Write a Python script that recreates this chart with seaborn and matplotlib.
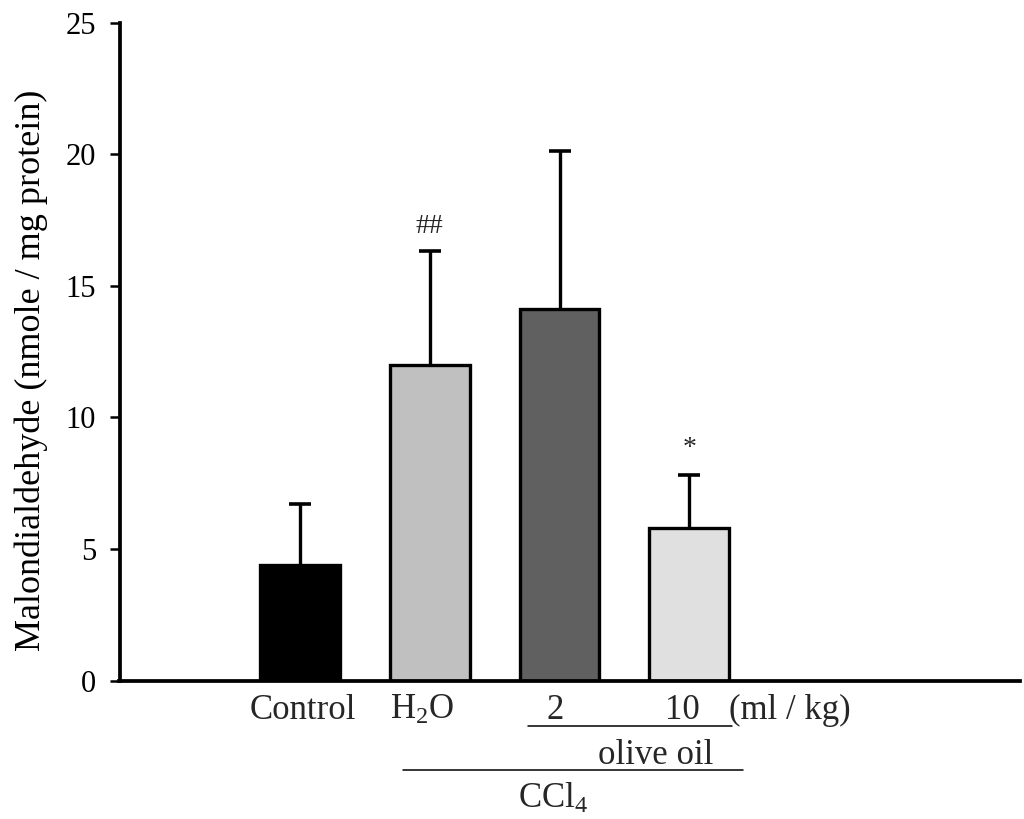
import numpy as np
import pandas as pd
import matplotlib
matplotlib.use("Agg")
import matplotlib.pyplot as plt
import seaborn as sns

# ---- data ----
groups = ["Control", "H2O", "2", "10"]
mda_mean = [4.4, 12.0, 14.1, 5.8]
mda_err_top = [6.7, 16.3, 20.1, 7.8]
bar_colors = ["#000000", "#c0c0c0", "#606060", "#e0e0e0"]
tick_texts = ["Control", r"H$_\mathrm{2}$O", "2", "10"]
tick_offsets = [0.02, -0.06, -0.03, -0.055]
signif_marks = ["", "##", "", "*"]
y_ticks = [0, 5, 10, 15, 20, 25]

sns.set_theme(style="white")
plt.rcParams["font.family"] = ["Liberation Serif", "DejaVu Serif"]
plt.rcParams["mathtext.fontset"] = "custom"
plt.rcParams["mathtext.rm"] = "Liberation Serif"
plt.rcParams["mathtext.it"] = "Liberation Serif:italic"
plt.rcParams["mathtext.bf"] = "Liberation Serif:bold"

df = pd.DataFrame({"group": groups, "mda": mda_mean})

fig = plt.figure(figsize=(10.24, 8.19), dpi=100)
ax = fig.add_axes([119.5 / 1024, 1 - 680.5 / 819, (1020 - 119.5) / 1024, 658 / 819])

sns.barplot(data=df, x="group", y="mda", hue="group", palette=bar_colors,
            order=groups, hue_order=groups, width=0.615, edgecolor="black",
            linewidth=2.4, legend=False, ax=ax, zorder=2)

xpos = np.arange(len(groups))
means = np.array(mda_mean)
upper = np.array(mda_err_top) - means
eb = ax.errorbar(xpos, means, yerr=[np.zeros_like(upper), upper], fmt="none",
                 ecolor="black", elinewidth=2.4, capsize=7.9, capthick=2.6, zorder=1)
eb[1][0].set_visible(False)

# significance marks
for i, m in enumerate(signif_marks):
    if not m:
        continue
    if m == "*":
        ax.text(xpos[i], mda_err_top[i] + 0.75, m, ha="center", va="baseline", fontsize=20)
    else:
        ax.text(xpos[i], mda_err_top[i] + 0.95, m, ha="center", va="center", fontsize=20)

ax.set_xlim(-1.392, 5.55)
ax.set_ylim(0, 25)
ax.set_yticks(y_ticks)
ax.set_yticklabels([str(t) for t in y_ticks])
ax.tick_params(axis="y", which="major", direction="out", length=7, width=1.8,
               pad=10, labelsize=22, left=True, colors="black")
ax.set_xticks([])
ax.set_xlabel("")
ax.set_ylabel("Malondialdehyde (nmole / mg protein)", fontsize=26, color="black")
ax.yaxis.label.set_va("center")
ax.yaxis.set_label_coords(-0.0985, 0.472)

for side in ["top", "right"]:
    ax.spines[side].set_visible(False)
for side in ["left", "bottom"]:
    ax.spines[side].set_linewidth(2.7)
    ax.spines[side].set_color("black")

trans = ax.get_xaxis_transform()
label_fs = 25
for i, (t, off) in enumerate(zip(tick_texts, tick_offsets)):
    ax.text(xpos[i] + off, -0.0585, t, transform=trans, ha="center", va="baseline",
            fontsize=label_fs, clip_on=False)
ax.text(3.778, -0.0585, "(ml / kg)", transform=trans, ha="center", va="baseline",
        fontsize=label_fs, clip_on=False)
ax.plot([1.758, 3.331], [-0.0685, -0.0685], transform=trans, color="black",
        lw=1.1, clip_on=False)
ax.text(2.745, -0.127, "olive oil", transform=trans, ha="center", va="baseline",
        fontsize=label_fs, clip_on=False)
ax.plot([0.794, 3.416], [-0.136, -0.136], transform=trans, color="black",
        lw=1.1, clip_on=False)
ax.text(1.951, -0.194, r"CCl$_\mathrm{4}$", transform=trans, ha="center", va="baseline",
        fontsize=label_fs, clip_on=False)

fig.savefig("out.png", dpi=100)
